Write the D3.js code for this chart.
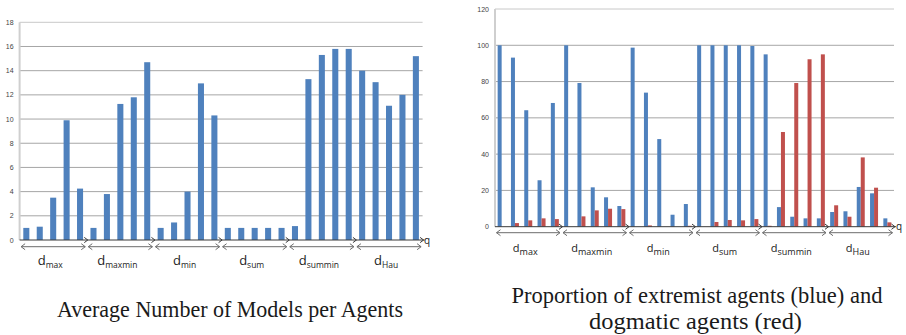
<!DOCTYPE html>
<html><head><meta charset="utf-8">
<script src="https://cdn.jsdelivr.net/npm/d3@7"></script>
<style>body{margin:0;background:#fff}svg{display:block}</style>
</head><body>
<svg id="c" width="906" height="335"></svg>
<script>
const groups = ["max","maxmin","min","sum","summin","Hau"];
const leftTicks = [0,2,4,6,8,10,12,14,16,18];
const rightTicks = [0,20,40,60,80,100,120];
// Average number of models per agent (5 q values per distance)
const avgModels = [1.0,1.1,3.5,9.9,4.25, 1.0,3.8,11.25,11.8,14.7, 1.0,1.45,4.0,12.95,10.3,
  1.0,1.0,1.0,1.0,1.0, 1.15,13.3,15.3,15.8,15.8, 14.0,13.05,11.1,12.0,15.2];
// Proportion of extremist agents (blue)
const extremist = [100,93.2,64.2,25.6,68.2, 100,79.2,21.7,16.2,11.4, 98.7,73.9,48.3,6.6,12.5,
  100,100,100,100,99.6, 95,10.8,5.5,4.6,4.6, 8.1,8.5,21.9,18.4,4.6];
// Proportion of dogmatic agents (red)
const dogmatic = [0,2,3.5,4.6,4.2, 0,5.7,9.0,9.9,9.7, 0,0.7,0,0,0.5,
  0,2.6,3.7,3.5,4.2, 0.5,52.2,79.2,92.3,95, 11.8,5.5,38.2,21.5,2.4];

const svg = d3.select("#c");
const BLUE="#4F81BD", RED="#C0504D";
const idx = d3.range(avgModels.length);

function chevron(x,y,dir,s){ // dir 1 = '>' , -1 = '<'
  return `M${x-dir*s},${y-s*0.75}L${x},${y}L${x-dir*s},${y+s*0.75}`;
}

function drawFrame(g, x, y, ticks){
  const [x0,x1]=x.range();
  g.append("g").selectAll("line").data(ticks.filter(t=>t>0)).join("line")
    .attr("x1",x0).attr("x2",x1).attr("y1",d=>y(d)).attr("y2",d=>y(d))
    .attr("stroke",(d,i,a)=> i===a.length-1 ? "#c8c8c8" : "#a6a6a6").attr("stroke-width",1);
  g.append("line").attr("x1",x0).attr("x2",x0).attr("y1",y(ticks[ticks.length-1])).attr("y2",y(0))
    .attr("stroke","#cfcfcf").attr("stroke-width",2);
  g.append("g").selectAll("text").data(ticks).join("text")
    .attr("x",x0-6).attr("y",d=>y(d)+2.5).attr("text-anchor","end")
    .attr("font-family","Liberation Sans, Arial").attr("font-size",7).attr("fill","#444")
    .text(d=>d);
}

function drawGroups(g, x, y, arrowY, labelY, dSize, subSize){
  const gs = groups.map((n,i)=>({n, s:x(idx[i*5]), e:x(idx[i*5+4])+x.bandwidth()}));
  g.append("line").attr("x1",gs[0].s).attr("x2",gs[gs.length-1].e+2).attr("y1",y(0)).attr("y2",y(0))
    .attr("stroke","#3a3a3a").attr("stroke-width",1);
  g.append("g").selectAll("path").data(gs).join("path")
    .attr("d",d=>chevron(d.e+1,y(0),1,3.5)).attr("fill","none").attr("stroke","#3a3a3a").attr("stroke-width",1);
  const a = g.append("g").attr("stroke","#6d6d6d").attr("fill","none").attr("stroke-width",1);
  gs.forEach(d=>{
    a.append("line").attr("x1",d.s+1.5).attr("x2",d.e-1.5).attr("y1",arrowY).attr("y2",arrowY);
    a.append("path").attr("d",chevron(d.s+1.5,arrowY,-1,4));
    a.append("path").attr("d",chevron(d.e-1.5,arrowY,1,4));
  });
  const t = g.append("g").selectAll("text").data(gs).join("text")
    .attr("x",d=>(d.s+d.e)/2-3).attr("y",labelY).attr("text-anchor","middle")
    .attr("font-family","Open Sans, Liberation Sans").attr("fill","#222");
  t.append("tspan").attr("font-size",dSize).text("d");
  t.append("tspan").attr("font-size",subSize).attr("dy",3).text(d=>d.n);
}

function title(g, str, cx, y, len){
  g.append("text").attr("x",cx).attr("y",y).attr("text-anchor","middle")
    .attr("font-family","Liberation Serif, Times New Roman").attr("font-size",24).attr("fill","#1a1a1a")
    .attr("textLength",len).attr("lengthAdjust","spacingAndGlyphs").text(str);
}

// ---------- Left chart ----------
{
  const g = svg.append("g");
  const x = d3.scaleBand().domain(idx).range([19.6,422.6]).paddingInner(0.55).paddingOuter(0.275);
  const y = d3.scaleLinear().domain([0,18]).range([240,22.3]);
  drawFrame(g,x,y,leftTicks);
  g.append("g").selectAll("rect").data(avgModels).join("rect")
    .attr("x",(d,i)=>x(i)).attr("width",x.bandwidth())
    .attr("y",d=>y(d)).attr("height",d=>y(0)-y(d)).attr("fill",BLUE);
  const xb = d3.scaleBand().domain(idx).range([19.6,422.6]);
  drawGroups(g,xb,y,246.7,265,13,8.5);
  g.append("text").attr("x",424).attr("y",243.5).attr("font-family","Open Sans, Liberation Sans")
    .attr("font-size",10).attr("fill","#222").text("q");
  title(g,"Average Number of Models per Agents",230,316.5,346);
}

// ---------- Right chart ----------
{
  const g = svg.append("g");
  const xb = d3.scaleBand().domain(idx).range([495,894]);
  const y = d3.scaleLinear().domain([0,120]).range([226.7,9]);
  drawFrame(g,xb,y,rightTicks);
  const inner = d3.scaleBand().domain(["e","d"]).range([0,8]).padding(0);
  const off = (xb.bandwidth()-8)/2;
  g.append("g").selectAll("rect").data(extremist).join("rect")
    .attr("x",(d,i)=>xb(i)+off+inner("e")).attr("width",inner.bandwidth())
    .attr("y",d=>y(d)).attr("height",d=>y(0)-y(d)).attr("fill",BLUE);
  g.append("g").selectAll("rect").data(dogmatic).join("rect")
    .attr("x",(d,i)=>xb(i)+off+inner("d")).attr("width",inner.bandwidth())
    .attr("y",d=>y(d)).attr("height",d=>y(0)-y(d)).attr("fill",RED);
  drawGroups(g,xb,y,232.7,252,11,9);
  g.append("text").attr("x",896).attr("y",230).attr("font-family","Open Sans, Liberation Sans")
    .attr("font-size",10).attr("fill","#222").text("q");
  title(g,"Proportion of extremist agents (blue) and",697,303,371);
  title(g,"dogmatic agents (red)",695.5,329,213);
}
</script>
</body></html>
